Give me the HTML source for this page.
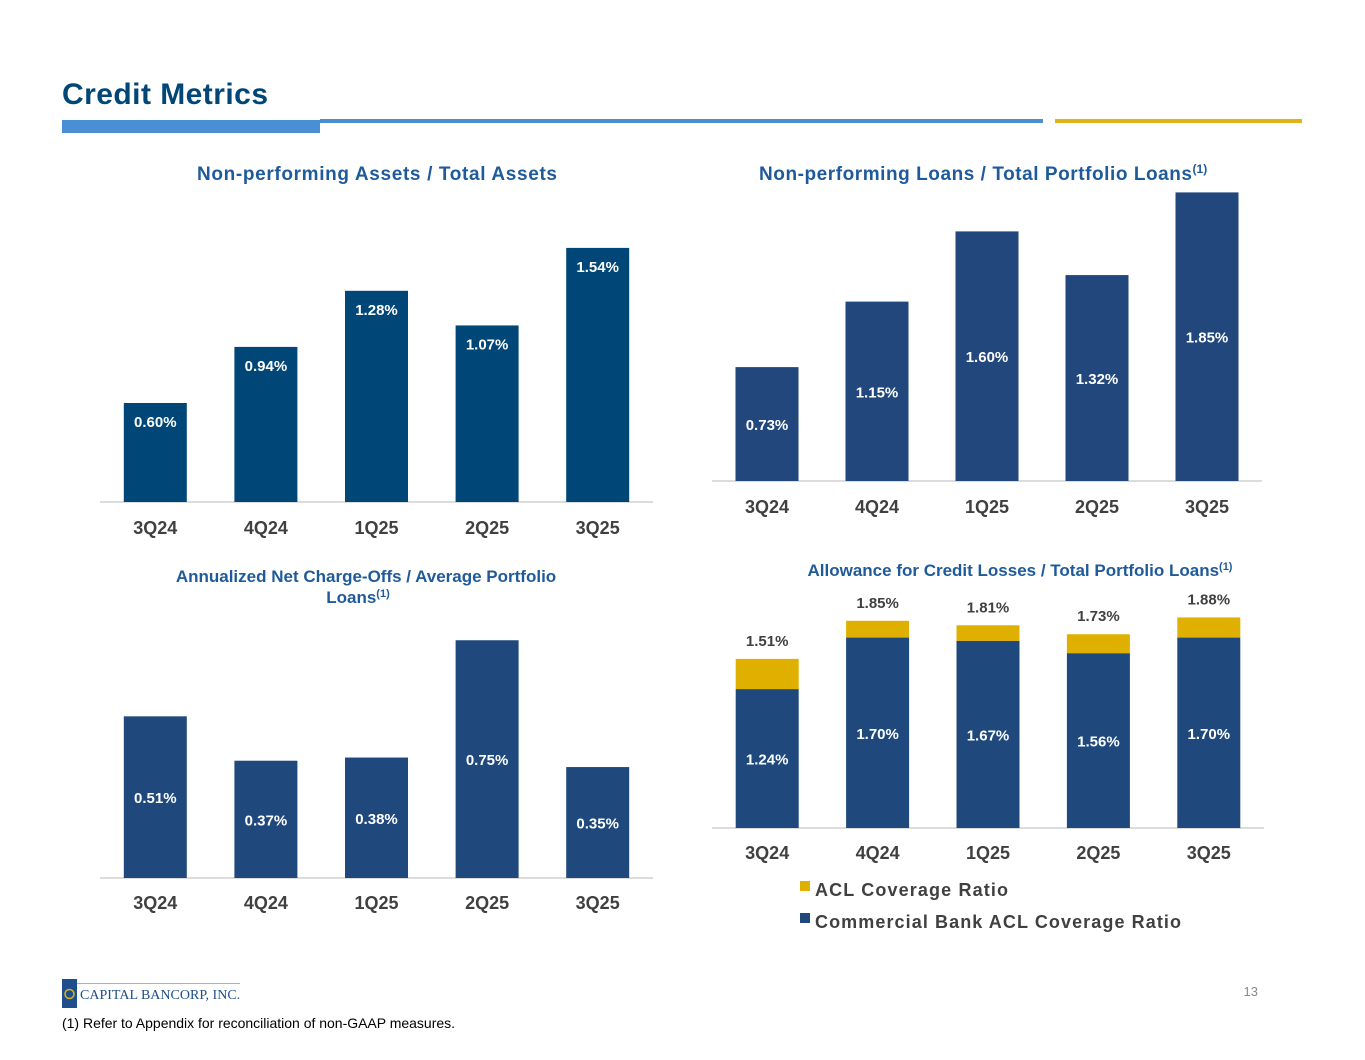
<!DOCTYPE html>
<html><head><meta charset="utf-8"><style>
body{margin:0;background:#fff;width:1365px;height:1055px;overflow:hidden;font-family:"Liberation Sans",Arial,sans-serif}
</style></head><body>
<svg id="s" width="1365" height="1055" xmlns="http://www.w3.org/2000/svg" font-family="Liberation Sans, Arial, sans-serif">
<text x="62" y="104" font-size="30" font-weight="bold" fill="#004677" textLength="206">Credit Metrics</text>
<rect x="62" y="120" width="258" height="13" fill="#4a8fd3"/>
<rect x="320" y="119" width="723" height="4" fill="#4a8fd3"/>
<rect x="1055" y="119" width="247" height="4" fill="#e0b317"/>
<text x="197" y="180" font-size="19" font-weight="bold" fill="#1f5a9a" textLength="360">Non-performing Assets /  Total Assets</text>
<text x="759" y="180" font-size="19" font-weight="bold" fill="#1f5a9a"><tspan textLength="433">Non-performing Loans /  Total Portfolio Loans</tspan><tspan font-size="12" dy="-7">(1)</tspan></text>
<text x="366" y="582" font-size="17" font-weight="bold" fill="#1f5a9a" text-anchor="middle">Annualized Net Charge-Offs / Average Portfolio</text>
<text x="358" y="603" font-size="17" font-weight="bold" fill="#1f5a9a" text-anchor="middle">Loans<tspan font-size="11" dy="-6">(1)</tspan></text>
<text x="1020" y="576" font-size="17" font-weight="bold" fill="#1f5a9a" text-anchor="middle">Allowance for Credit Losses / Total Portfolio Loans<tspan font-size="11" dy="-6">(1)</tspan></text>
<g id="c1"></g><g id="c2"></g><g id="c3"></g><g id="c4"></g>
<rect x="800" y="881" width="10" height="10" fill="#e0b000"/>
<text x="815" y="896" font-size="18" font-weight="bold" fill="#404040" textLength="193">ACL Coverage Ratio</text>
<rect x="800" y="913" width="10" height="10" fill="#1f497d"/>
<text x="815" y="928" font-size="18" font-weight="bold" fill="#404040" textLength="366">Commercial Bank ACL Coverage Ratio</text>
<rect x="62" y="979" width="15" height="29" fill="#1f4e8c"/>
<circle cx="69.5" cy="994" r="4.5" fill="none" stroke="#e0b317" stroke-width="1.5"/>
<rect x="77" y="983" width="163" height="1" fill="#e0b317"/>
<text x="80" y="999" font-size="14" font-family="Liberation Serif, serif" fill="#1f4e8c">CAPITAL BANCORP, INC.</text>
<text x="1258" y="996" font-size="13" fill="#8a8a8a" text-anchor="end">13</text>
<text x="62" y="1028" font-size="14" fill="#000" textLength="393">(1) Refer to Appendix for reconciliation of non-GAAP measures.</text>
</svg>
<script>
const cats=["3Q24","4Q24","1Q25","2Q25","3Q25"];
const npaVals=[0.60,0.94,1.28,1.07,1.54];
const nplVals=[0.73,1.15,1.60,1.32,1.85];
const ncoVals=[0.51,0.37,0.38,0.75,0.35];
const aclTotal=[1.51,1.85,1.81,1.73,1.88];
const aclCommercial=[1.24,1.70,1.67,1.56,1.70];
const NS="http://www.w3.org/2000/svg";
function mk(p,t,a){const e=document.createElementNS(NS,t);for(const k in a)e.setAttribute(k,a[k]);p.appendChild(e);return e;}
function chart(id,x0,x1,base,k,catY){
  const g=document.getElementById(id);
  const step=(x1-x0)/cats.length;
  const xs=i=>x0+step*(i+0.5);
  const ys=v=>base-v*k;
  const ax=mk(g,'line',{x1:x0,x2:x1,y1:base,y2:base,stroke:'#d0d0d0','stroke-width':1.5});
  
  
  cats.forEach((c,i)=>{const t=mk(g,'text',{x:xs(i),y:catY,'font-size':18,'font-weight':'bold',fill:'#404040','text-anchor':'middle'});t.textContent=c;
    
    });
  return {g,xs,ys};
}
function simple(id,vals,x0,x1,base,k,catY,color,mid){
  const {g,xs,ys}=chart(id,x0,x1,base,k,catY);
  vals.forEach((v,i)=>{
    const r=mk(g,'rect',{x:xs(i)-31.5,y:ys(v),width:63,height:base-ys(v),fill:color});
    
    
    const ly=mid?(ys(v)+base)/2+6:ys(v)+24;
    const t=mk(g,'text',{x:xs(i),y:ly,'font-size':15,'font-weight':'bold',fill:'#fff','text-anchor':'middle'});
    t.textContent=v.toFixed(2)+'%';
    
    
  });
}
simple('c1',npaVals,100,653,502,165,534,'#004677',false);
simple('c2',nplVals,712,1262,481,156,513,'#22477c',true);
simple('c3',ncoVals,100,653,878,317,909,'#1f497d',true);
(function(){
  const base=828,k=112;
  const {g,xs,ys}=chart('c4',712,1264,base,k,859);
  aclTotal.forEach((v,i)=>{
    const c=aclCommercial[i];
    const gold=mk(g,'rect',{x:xs(i)-31.5,y:ys(v),width:63,height:ys(c)-ys(v),fill:'#e0b000'});
    
    
    const b=mk(g,'rect',{x:xs(i)-31.5,y:ys(c),width:63,height:base-ys(c),fill:'#1f497d'});
    
    
    const t=mk(g,'text',{x:xs(i),y:(ys(c)+base)/2+6,'font-size':15,'font-weight':'bold',fill:'#fff','text-anchor':'middle'});
    t.textContent=c.toFixed(2)+'%';
    
    
    const t2=mk(g,'text',{x:xs(i),y:ys(v)-13,'font-size':15,'font-weight':'bold',fill:'#404040','text-anchor':'middle'});
    t2.textContent=v.toFixed(2)+'%';
    
    
  });
})();
</script>
</body></html>
